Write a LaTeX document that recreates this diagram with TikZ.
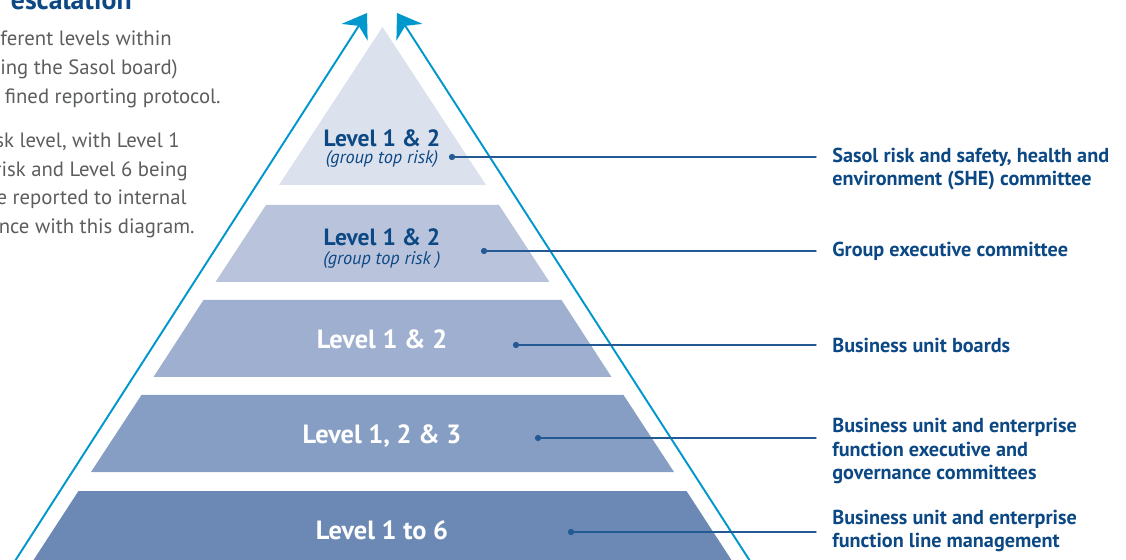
\documentclass[tikz,border=0pt]{standalone}
\usepackage{fontspec}
\setmainfont{PT Sans}
\usetikzlibrary{arrows.meta,positioning}

\definecolor{sasolblue}{RGB}{12,72,132}
\definecolor{leadblue}{RGB}{35,90,148}
\definecolor{risecyan}{RGB}{0,152,204}
\definecolor{bodygrey}{RGB}{92,93,95}
\definecolor{bandA}{RGB}{220,225,238}
\definecolor{bandB}{RGB}{185,195,220}
\definecolor{bandC}{RGB}{158,175,208}
\definecolor{bandD}{RGB}{134,158,196}
\definecolor{bandE}{RGB}{108,137,181}

\begin{document}
\begin{tikzpicture}[x=0.02cm, y=-0.02cm, line join=round, line cap=round,
    toplvl/.style={anchor=base, text=sasolblue, inner sep=0pt, font=\bfseries\fontsize{13.4}{15}\selectfont},
    toprisk/.style={anchor=base, text=sasolblue, inner sep=0pt, font=\itshape\fontsize{10.4}{12}\selectfont},
    lvl/.style={anchor=base, text=white, inner sep=0pt, font=\bfseries\fontsize{15}{17}\selectfont},
    dot/.style={circle, fill=leadblue, inner sep=0pt, minimum size=3.6pt},
    leader/.style={leadblue, line width=0.8pt},
    comm/.style={anchor=west, align=left, text=sasolblue, inner sep=0pt, font=\bfseries\fontsize{11.5}{13.6}\selectfont},
    greyline/.style={anchor=base east, text=bodygrey, inner sep=0pt, font=\fontsize{11.8}{14}\selectfont},
    rise/.style={risecyan, line width=1.1pt, -{Stealth[length=13pt, width=17.5pt, inset=4.3pt]}}]
  \useasboundingbox (0,0) rectangle (1126,560);

  % heading and text on the left
  \node[anchor=base east, text=sasolblue, inner sep=0pt, font=\bfseries\fontsize{15.8}{18}\selectfont] (title) at (132,10) {escalation};
  \foreach \txt/\xe/\yb in {{ferent levels within}/172/46, {ing the Sasol board)}/178/75,
      {fined reporting protocol.}/221/104, {sk level, with Level 1}/180/148,
      {risk and Level 6 being}/188/177, {e reported to internal}/187/205,
      {nce with this diagram.}/195/234}
    \node[greyline] at (\xe,\yb) {\txt};

  % pyramid bands
  \fill[bandA] (382.5,27) -- (486,185) -- (279,185) -- cycle;
  \fill[bandB] (266,205) -- (499,205) -- (549.5,282) -- (215.5,282) -- cycle;
  \fill[bandC] (203.5,300) -- (561.5,300) -- (611.5,377) -- (153.5,377) -- cycle;
  \fill[bandD] (141.5,395) -- (623.5,395) -- (674,472) -- (91,472) -- cycle;
  \fill[bandE] (78.5,491) -- (686.5,491) -- (757.5,600) -- (7.5,600) -- cycle;

  % rising arrows
  \coordinate (lbase) at (6,575);
  \coordinate (ltip) at (367,13);
  \coordinate (rbase) at (759,575);
  \coordinate (rtip) at (397,13);
  \draw[rise] (lbase) -- (ltip);
  \draw[rise] (rbase) -- (rtip);

  % level labels
  \node[toplvl] (l1) at (382,147) {Level 1 \& 2};
  \node[toprisk] (r1) at (382,164) {(group top risk)};
  \node[toplvl] (l2) at (382,246) {Level 1 \& 2};
  \node[toprisk] (r2) at (382,265) {(group top risk )};
  \node[lvl] (l3) at (382,349) {Level 1 \& 2};
  \node[lvl] (l4) at (382,443) {Level 1, 2 \& 3};
  \node[lvl] (l5) at (382,539) {Level 1 to 6};

  % leaders
  \node[dot] (d1) at (452,157) {};
  \node[dot] (d2) at (484,251) {};
  \node[dot] (d3) at (516,345) {};
  \node[dot] (d4) at (538,438) {};
  \node[dot] (d5) at (571,532) {};
  \coordinate (e1) at (816,157);
  \coordinate (e2) at (816,251);
  \coordinate (e3) at (816,345);
  \coordinate (e4) at (816,438);
  \coordinate (e5) at (816,532);
  \foreach \i in {1,...,5}
    \draw[leader] (d\i.center) -- (e\i);

  % committees
  \node[comm] (c1) at (832,169) {Sasol risk and safety, health and\\environment (SHE) committee};
  \node[comm, right=0.32cm of e2] (c2) {Group executive committee};
  \node[comm, right=0.32cm of e3] (c3) {Business unit boards};
  \node[comm] (c4) at (832,451) {Business unit and enterprise\\function executive and\\governance committees};
  \node[comm] (c5) at (832,531) {Business unit and enterprise\\function line management};
\end{tikzpicture}
\end{document}
